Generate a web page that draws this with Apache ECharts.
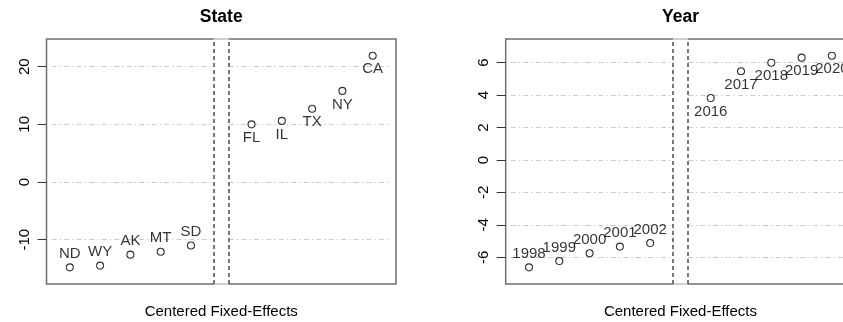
<!DOCTYPE html>
<html><head><meta charset="utf-8">
<script src="https://cdn.jsdelivr.net/npm/echarts@6/dist/echarts.min.js"></script>
<style>html,body{margin:0;padding:0;background:#fff;overflow:hidden;width:843px;height:322px}#c{width:900px;height:322px}</style>
</head><body><div id="c"></div>
<script>
// ---- data ----
const stateNames  = ['ND','WY','AK','MT','SD','FL','IL','TX','NY','CA'];
const stateValues = [-14.8,-14.5,-12.6,-12.1,-11.0,10.0,10.6,12.7,15.8,21.9];
const stateTicks  = [-10,0,10,20];
const yearNames   = ['1998','1999','2000','2001','2002','2016','2017','2018','2019','2020'];
const yearValues  = [-6.62,-6.23,-5.75,-5.34,-5.12,3.82,5.47,6.0,6.31,6.43];
const yearTicks   = [-6,-4,-2,0,2,4,6];
const panelTitles = ['State','Year'];
const xAxisTitle  = 'Centered Fixed-Effects';
const stateRange  = [-17.69, 24.80];
const yearRange   = [-7.645, 7.46];

// ---- layout / style ----
const FONT = '"Liberation Sans", Arial, Helvetica, sans-serif';
const X_MIN = 0.23, X_MAX = 11.77, GAP_L = 5.75, GAP_R = 6.25, GL_L = 0.4, GL_R = 11.6;
const grids = [
  {left: 46.5, top: 39, width: 349.5, height: 245},
  {left: 505.7, top: 39, width: 349.5, height: 245}
];
const FS = 15;

function xPos(i) { return i < 5 ? i + 1 : i + 2; }

function pointSeries(idx, names, values) {
  const low = [], high = [];
  names.forEach((n, i) => {
    const p = [xPos(i), values[i], n];
    (i < 5 ? low : high).push(p);
  });
  const mk = (data, pos) => ({
    type: 'scatter', xAxisIndex: idx, yAxisIndex: idx, data: data,
    symbol: 'circle', symbolSize: 7, z: 6, silent: true,
    itemStyle: {color: '#fff', borderColor: '#000', borderWidth: 1.1},
    label: {show: true, position: pos, distance: 2, formatter: p => p.data[2],
            color: '#000', fontSize: FS, fontFamily: FONT}
  });
  return [mk(low, 'top'), mk(high, 'bottom')];
}

function decorSeries(idx, ticks, range) {
  const gridStyle = {color: '#cccccc', width: 1, type: [5, 3, 1.5, 3]};
  const dashStyle = {color: '#555555', width: 1.6, type: [4, 3]};
  const lightBorder = {color: '#cfcfcf', width: 2, type: 'solid'};
  const data = [];
  ticks.forEach(t => {
    data.push([{coord: [GL_L, t], lineStyle: gridStyle}, {coord: [GAP_L, t]}]);
    data.push([{coord: [GAP_R, t], lineStyle: gridStyle}, {coord: [GL_R, t]}]);
  });
  data.push([{coord: [GAP_L, range[1]], lineStyle: lightBorder}, {coord: [GAP_R, range[1]]}]);
  data.push([{coord: [GAP_L, range[0]], lineStyle: lightBorder}, {coord: [GAP_R, range[0]]}]);
  data.push([{coord: [GAP_L, range[0]], lineStyle: dashStyle}, {coord: [GAP_L, range[1]]}]);
  data.push([{coord: [GAP_R, range[0]], lineStyle: dashStyle}, {coord: [GAP_R, range[1]]}]);
  return {
    type: 'scatter', xAxisIndex: idx, yAxisIndex: idx, data: [], clip: false, z: 4, silent: true,
    markLine: {silent: true, symbol: ['none', 'none'], label: {show: false},
               animation: false, emphasis: {disabled: true}, data: data}
  };
}

function yAxis(idx, ticks, range) {
  return {
    type: 'value', gridIndex: idx, min: range[0], max: range[1],
    axisLine: {show: false},
    axisTick: {show: true, length: 9, customValues: ticks, lineStyle: {color: '#333', width: 1}},
    axisLabel: {show: true, customValues: ticks, rotate: 90, margin: 14,
                color: '#000', fontSize: FS, fontFamily: FONT},
    splitLine: {show: false}
  };
}
function xAxis(idx) {
  return {type: 'value', gridIndex: idx, min: X_MIN, max: X_MAX,
          axisLine: {show: false}, axisTick: {show: false}, axisLabel: {show: false}, splitLine: {show: false}};
}

const graphics = [];
grids.forEach((g, i) => {
  const cx = g.left + g.width / 2;
  graphics.push({type: 'text', x: cx, y: 17.5, style: {text: panelTitles[i], fill: '#000',
    font: 'bold 17.5px ' + FONT, textAlign: 'center', textVerticalAlign: 'middle'}});
  graphics.push({type: 'text', x: cx, y: 312, style: {text: xAxisTitle, fill: '#000',
    font: FS + 'px ' + FONT, textAlign: 'center', textVerticalAlign: 'middle'}});
});

const chart = echarts.init(document.getElementById('c'));
chart.setOption({
  animation: false,
  backgroundColor: '#fff',
  grid: grids.map(g => Object.assign({show: true, borderColor: '#6e6e6e', borderWidth: 1.5,
                                      backgroundColor: 'transparent'}, g)),
  xAxis: [xAxis(0), xAxis(1)],
  yAxis: [yAxis(0, stateTicks, stateRange), yAxis(1, yearTicks, yearRange)],
  graphic: graphics,
  series: [
    decorSeries(0, stateTicks, stateRange),
    decorSeries(1, yearTicks, yearRange),
    ...pointSeries(0, stateNames, stateValues),
    ...pointSeries(1, yearNames, yearValues)
  ]
});
</script>
</body></html>
